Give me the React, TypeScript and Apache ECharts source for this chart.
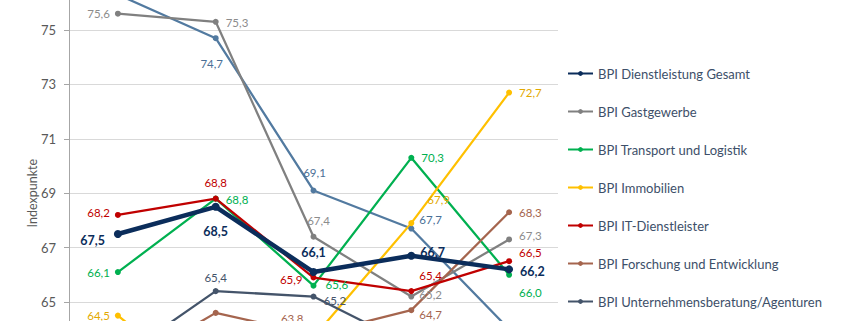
import React, { useEffect, useRef } from "react";
import * as echarts from "echarts";

// Categories (x-axis labels are outside the visible crop)
const categories = ["Welle 1", "Welle 2", "Welle 3", "Welle 4", "Welle 5"];

// Series values (Indexpunkte)
const gesamt = [67.5, 68.5, 66.1, 66.7, 66.2];
const gastgewerbe = [75.6, 75.3, 67.4, 65.2, 67.3];
const transport = [66.1, 68.8, 65.6, 70.3, 66.0];
const immobilien = [64.5, 61.6, 63.7, 67.9, 72.7];
const itDienst = [68.2, 68.8, 65.9, 65.4, 66.5];
const forschung = [62.5, 64.6, 63.8, 64.7, 68.3];
const beratung = [62.9, 65.4, 65.2, 63.4, 63.0];
const sonstige = [76.3, 74.7, 69.1, 67.7, 64.0];

// y-axis ticks
const yMin = 61;
const yMax = 77;
const yInterval = 2;

const names = [
  "BPI Dienstleistung Gesamt",
  "BPI Gastgewerbe",
  "BPI Transport und Logistik",
  "BPI Immobilien",
  "BPI IT-Dienstleister",
  "BPI Forschung und Entwicklung",
  "BPI Unternehmensberatung/Agenturen",
  "BPI Sonstige Dienstleistungen",
];

type Spec = { p: string; o?: number[]; d?: number } | null;

// label placement per point (style, not data)
const lblGesamt: Spec[] = [
  { p: "left", o: [0, 6], d: 9 },
  { p: "bottom", d: 14 },
  { p: "top", d: 9 },
  { p: "right", o: [0, -3] },
  { p: "right", o: [2, 2] },
];
const lblGast: Spec[] = [
  { p: "left" },
  { p: "right", o: [2, 1] },
  { p: "top", o: [5, -2] },
  { p: "right", o: [0, -2] },
  { p: "right", o: [2, -4] },
];
const lblTransport: Spec[] = [
  { p: "left" },
  { p: "right", o: [2, 1] },
  { p: "right", o: [4, -1] },
  { p: "right", o: [2, 0] },
  { p: "right", o: [2, 18] },
];
const lblImmo: Spec[] = [
  { p: "left" },
  null,
  null,
  { p: "right", o: [8, -24] },
  { p: "right", o: [2, 0] },
];
const lblIT: Spec[] = [
  { p: "left", o: [0, -2] },
  { p: "top", o: [0, -2] },
  { p: "left", o: [-3, 2] },
  { p: "right", o: [0, -16] },
  { p: "right", o: [2, -9] },
];
const lblForschung: Spec[] = [
  null,
  null,
  { p: "left", o: [-2, -16] },
  { p: "right", o: [0, 4] },
  { p: "right", o: [2, 0] },
];
const lblBeratung: Spec[] = [
  null,
  { p: "top" },
  { p: "right", o: [2, 4] },
  null,
  null,
];
const lblSonstige: Spec[] = [
  null,
  { p: "bottom", o: [-4, 0], d: 16 },
  { p: "top", o: [1, -4] },
  { p: "right", o: [0, -9] },
  null,
];

const FONT = "Lato, 'Noto Sans', sans-serif";

function fmt(v: number) {
  return v.toFixed(1).replace(".", ",");
}

function makeSeries(
  name: string,
  values: number[],
  color: string,
  labelColor: string,
  specs: Spec[],
  thick = false
) {
  return {
    type: "line",
    name,
    data: values.map((v, i) => {
      const s = specs[i];
      return {
        value: v,
        label: s
          ? {
              show: true,
              position: s.p,
              offset: s.o || [0, 0],
              distance: s.d ?? 5,
            }
          : { show: false },
      };
    }),
    symbol: "circle",
    symbolSize: thick ? 8 : 6,
    lineStyle: { color, width: thick ? 4.5 : 2.25 },
    itemStyle: { color },
    label: {
      show: true,
      color: labelColor,
      fontFamily: FONT,
      fontSize: thick ? 12.5 : 11.5,
      fontWeight: thick ? "bold" : "normal",
      formatter: (p: any) => fmt(p.value),
    },
    emphasis: { disabled: true },
  };
}

export default function App() {
  const ref = useRef<HTMLDivElement>(null);
  useEffect(() => {
    document.body.style.margin = "0";
    const chart = echarts.init(ref.current!, null, { renderer: "svg" });
    chart.setOption({
      animation: false,
      backgroundColor: "#ffffff",
      textStyle: { fontFamily: FONT },
      grid: { left: 69, top: 55.6, width: 489, height: 435.2 },
      legend: {
        orient: "vertical",
        left: 567,
        top: 147,
        padding: 0,
        itemWidth: 25,
        itemHeight: 6,
        itemGap: 25,
        data: names.slice(0, 7),
        textStyle: { color: "#3d4f69", fontSize: 13, fontFamily: FONT },
        selectedMode: false,
      },
      xAxis: {
        type: "category",
        data: categories,
        boundaryGap: true,
        axisLabel: { show: false },
        axisTick: { show: false },
        axisLine: { lineStyle: { color: "#d9d9d9" } },
      },
      yAxis: {
        type: "value",
        min: yMin,
        max: yMax,
        interval: yInterval,
        name: "Indexpunkte",
        nameLocation: "middle",
        nameGap: 30,
        nameMoveOverlap: false,
        nameTextStyle: { color: "#595959", fontSize: 12.5, fontFamily: FONT },
        axisLine: { show: true, lineStyle: { color: "#a6a6a6" } },
        axisTick: { show: true, length: 5, lineStyle: { color: "#a6a6a6" } },
        axisLabel: {
          color: "#595959",
          fontSize: 13,
          margin: 13,
          fontFamily: FONT,
          formatter: (v: number) => (v < 64 || v > 76 ? "" : String(v)),
        },
        splitLine: { lineStyle: { color: "#d9d9d9" } },
      },
      series: [
        makeSeries(names[7], sonstige, "#527aa0", "#4a6f96", lblSonstige),
        makeSeries(names[1], gastgewerbe, "#808080", "#8c8c8c", lblGast),
        makeSeries(names[2], transport, "#00b050", "#00b050", lblTransport),
        makeSeries(names[3], immobilien, "#ffc000", "#e3a900", lblImmo),
        makeSeries(names[6], beratung, "#44546a", "#44546a", lblBeratung),
        makeSeries(names[5], forschung, "#a5654e", "#a5654e", lblForschung),
        makeSeries(names[4], itDienst, "#c00000", "#c00000", lblIT),
        makeSeries(names[0], gesamt, "#0b2d5b", "#0b2d5b", lblGesamt, true),
      ],
    });
    return () => chart.dispose();
  }, []);
  return (
    <div
      style={{
        position: "fixed",
        left: 0,
        top: 0,
        width: 845,
        height: 321,
        overflow: "hidden",
        background: "#fff",
      }}
    >
      <div
        ref={ref}
        style={{ position: "absolute", left: 0, top: -80, width: 845, height: 560 }}
      />
    </div>
  );
}
